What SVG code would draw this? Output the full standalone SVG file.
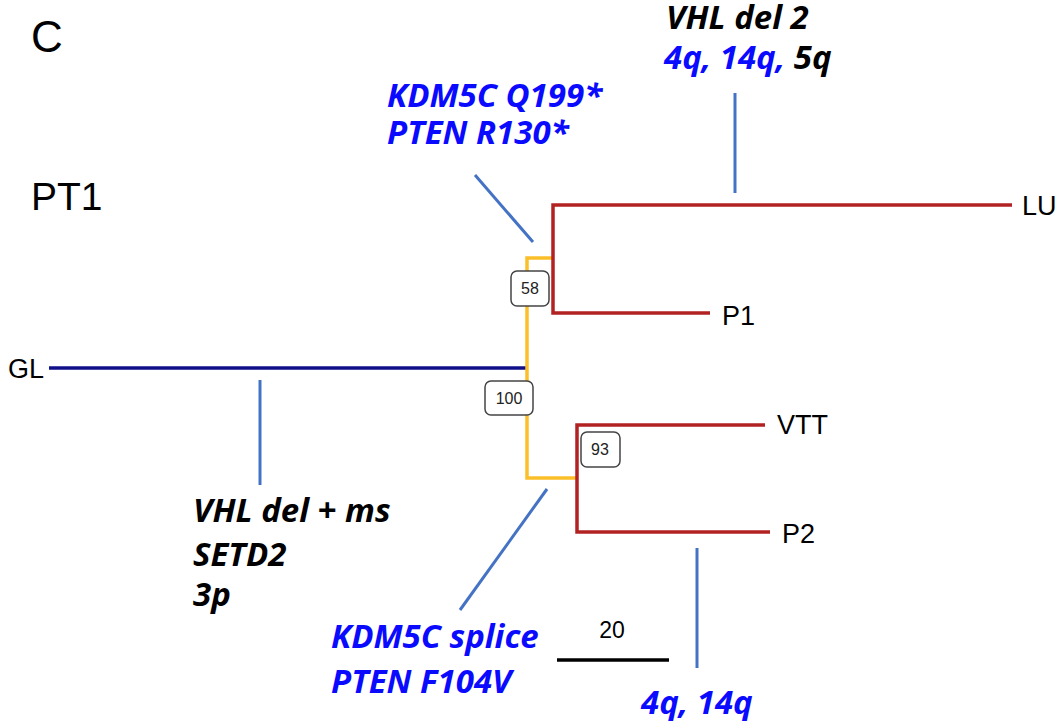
<svg xmlns="http://www.w3.org/2000/svg" width="1063" height="721" viewBox="0 0 1063 721">
<style>
.t{font-family:"Liberation Sans",Arial,sans-serif;fill:#000}
.n{font-size:27px}
.m{font-family:"Open Sans","Noto Sans",sans-serif;font-weight:bold;font-style:italic;font-size:33px}
.b{fill:#0a0aff}
.k{fill:#000}
.ann{stroke:#4472C4;stroke-width:3;fill:none}
.red{stroke:#B22222;stroke-width:3.5;fill:none}
.yel{stroke:#FBBF2A;stroke-width:3.5;fill:none}
.box{fill:#fff;stroke:#444;stroke-width:1.5}
.bl{font-family:"Liberation Sans",Arial,sans-serif;font-size:16px;fill:#222;text-anchor:middle}
</style>
<rect width="1063" height="721" fill="#fff"/>
<text class="t" x="31" y="52" font-size="44">C</text>
<text class="t" x="31" y="210" font-size="39">PT1</text>
<g id="connectors">
<line x1="49" y1="368" x2="527" y2="368" stroke="#10108a" stroke-width="3.5"/>
<polyline class="yel" points="553,258 527,258 527,478 577,478"/>
<polyline class="red" points="1012,205 553,205 553,313 710,313"/>
<polyline class="red" points="765,425 577,425 577,532 770,532"/>
<line class="ann" x1="475" y1="175" x2="533" y2="242"/>
<line class="ann" x1="735" y1="93" x2="735" y2="193"/>
<line class="ann" x1="260" y1="380" x2="260" y2="485"/>
<line class="ann" x1="547" y1="489" x2="460" y2="610"/>
<line class="ann" x1="697" y1="548" x2="697" y2="668"/>
<line x1="557" y1="660" x2="669" y2="660" stroke="#000" stroke-width="3.5"/>
</g>
<g id="GL"><text class="t n" x="8" y="378">GL</text></g>
<g id="LU"><text class="t n" x="1022" y="215">LU</text></g>
<g id="P1"><text class="t n" x="722" y="325">P1</text></g>
<g id="VTT"><text class="t n" x="777" y="434">VTT</text></g>
<g id="P2"><text class="t n" x="782" y="543">P2</text></g>
<g id="b58"><rect class="box" x="511" y="271" width="38" height="35" rx="6"/><text class="bl" x="530" y="294">58</text></g>
<g id="b100"><rect class="box" x="485" y="381" width="48" height="34" rx="6"/><text class="bl" x="509" y="404">100</text></g>
<g id="b93"><rect class="box" x="581" y="432" width="39" height="35" rx="6"/><text class="bl" x="600" y="455">93</text></g>
<g id="scale"><text class="t" x="612" y="638" font-size="23" text-anchor="middle">20</text></g>
<g id="ann-lu">
<text class="m k" x="666" y="29">VHL del 2</text>
<text class="m" x="664" y="69"><tspan class="b">4q, 14q, </tspan><tspan class="k">5q</tspan></text>
</g>
<g id="ann-58">
<text class="m b" x="387" y="107">KDM5C Q199*</text>
<text class="m b" x="387" y="144">PTEN R130*</text>
</g>
<g id="ann-gl">
<text class="m k" x="193" y="522">VHL del + ms</text>
<text class="m k" x="193" y="566">SETD2</text>
<text class="m k" x="193" y="606">3p</text>
</g>
<g id="ann-93">
<text class="m b" x="331" y="648">KDM5C splice</text>
<text class="m b" x="331" y="693">PTEN F104V</text>
</g>
<g id="ann-p2"><text class="m b" x="641" y="714">4q, 14q</text></g>
</svg>
